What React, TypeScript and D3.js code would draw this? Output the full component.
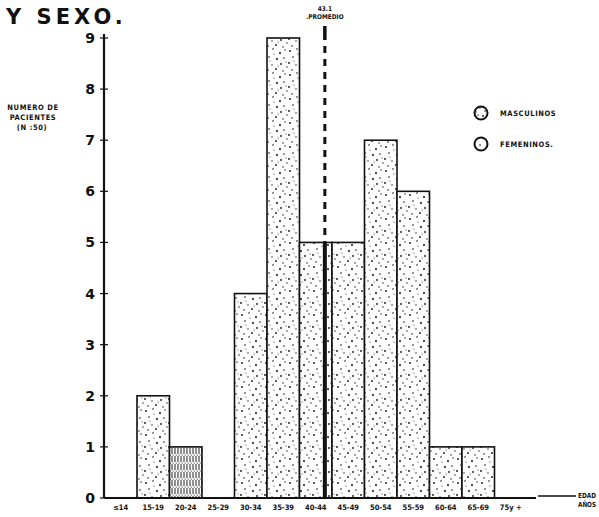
import React from "react";
import * as d3 from "d3";

const categories = ["≤14", "15-19", "20-24", "25-29", "30-34", "35-39", "40-44", "45-49", "50-54", "55-59", "60-64", "65-69", "75y +"];
const counts = [0, 2, 1, 0, 4, 9, 5, 5, 7, 6, 1, 1, 0];
const hatched = ["20-24"];
const yTicks = [0, 1, 2, 3, 4, 5, 6, 7, 8, 9];
const meanAge = 43.1;
const legendItems = ["MASCULINOS", "FEMENINOS."];

const W = 599;
const H = 517;

// stipple dot offsets inside a pattern tile (texture only)
const dots: [number, number, number][] = [
  [2, 3, 0.9], [9, 1, 0.8], [16, 5, 1.0], [21, 2, 0.7], [5, 9, 0.8], [13, 11, 1.0],
  [20, 10, 0.8], [1, 15, 0.9], [8, 17, 0.7], [17, 16, 0.9], [23, 19, 0.7], [4, 22, 0.8],
  [12, 21, 0.9], [19, 23, 0.7], [10, 6, 0.6], [14, 18, 0.6], [6, 13, 0.5], [22, 14, 0.5],
];

const condensed = "DejaVu Sans Condensed, DejaVu Sans, sans-serif";

export default function App() {
  const x = d3.scaleBand<string>().domain(categories).range([104.5, 527]).paddingInner(0).paddingOuter(0);
  const y = d3.scaleLinear().domain([0, 9]).range([498, 38]);
  // age scale for the mean line
  const ageX = d3.scaleLinear().domain([9.2, 74.2]).range([104.5, 527]);
  const mx = ageX(meanAge);

  return (
    <svg width={W} height={H} style={{ display: "block", position: "absolute", left: 0, top: 0, background: "#fff" }}>
      <defs>
        <pattern id="stip" width="24" height="24" patternUnits="userSpaceOnUse">
          <rect width="24" height="24" fill="#fff" />
          {dots.map((d, i) => (
            <circle key={i} cx={d[0]} cy={d[1]} r={d[2]} fill="#111" />
          ))}
        </pattern>
        <pattern id="hatch" width="3" height="8" patternUnits="userSpaceOnUse">
          <rect width="3" height="8" fill="#fff" />
          <line x1="1" y1="0" x2="1" y2="6" stroke="#222" strokeWidth="1" />
          <circle cx="2.2" cy="7" r="0.6" fill="#111" />
        </pattern>
      </defs>

      <text x={6} y={24} fontFamily="DejaVu Sans, sans-serif" fontWeight="bold" fontSize={21} letterSpacing={4} fill="#111">
        Y SEXO.
      </text>

      {/* y-axis title */}
      <g fontFamily={condensed} fontWeight="bold" fontSize={7.5} fill="#111" textAnchor="middle" letterSpacing={0.6}>
        <text x={33} y={110}>NUMERO DE</text>
        <text x={33} y={120}>PACIENTES</text>
        <text x={32} y={130}>(N :50)</text>
      </g>

      {/* bars */}
      {categories.map((c, i) =>
        counts[i] > 0 ? (
          <rect
            key={c}
            x={x(c)!}
            y={y(counts[i])}
            width={x.bandwidth()}
            height={y(0) - y(counts[i])}
            fill={hatched.includes(c) ? "url(#hatch)" : "url(#stip)"}
            stroke="#111"
            strokeWidth={1.6}
          />
        ) : null
      )}

      {/* mean line */}
      <line x1={mx} x2={mx} y1={26} y2={40} stroke="#111" strokeWidth={3.5} />
      <line x1={mx} x2={mx} y1={46} y2={y(5)} stroke="#111" strokeWidth={3} strokeDasharray="7 6" />
      <line x1={mx} x2={mx} y1={y(5)} y2={y(0)} stroke="#111" strokeWidth={4} />
      <g fontFamily={condensed} fontWeight="bold" fontSize={6.5} fill="#111" textAnchor="middle">
        <text x={mx} y={11}>43.1</text>
        <text x={mx} y={19}>.PROMEDIO</text>
      </g>

      {/* y axis */}
      <line x1={104} x2={104} y1={y(9) - 4} y2={y(0)} stroke="#111" strokeWidth={2.2} />
      {yTicks.map((t) => (
        <g key={t}>
          <line x1={100} x2={108} y1={y(t)} y2={y(t)} stroke="#111" strokeWidth={1.2} />
          <text x={95} y={y(t) + 5} textAnchor="end" fontFamily="DejaVu Sans, sans-serif" fontWeight="bold" fontSize={14} fill="#111">
            {t}
          </text>
        </g>
      ))}

      {/* x axis */}
      <line x1={104} x2={536} y1={y(0)} y2={y(0)} stroke="#111" strokeWidth={2.2} />
      <line x1={538} x2={576} y1={y(0) - 2} y2={y(0) - 2} stroke="#111" strokeWidth={1.3} />
      {categories.map((c) => (
        <text
          key={c}
          x={x(c)! + x.bandwidth() / 2}
          y={510}
          textAnchor="middle"
          fontFamily={condensed}
          fontWeight="bold"
          fontSize={7.5}
          fill="#111"
        >
          {c}
        </text>
      ))}
      <g fontFamily={condensed} fontWeight="bold" fontSize={7} fill="#111">
        <text x={578} y={498} textLength={18} lengthAdjust="spacingAndGlyphs">EDAD</text>
        <text x={578} y={507} textLength={18} lengthAdjust="spacingAndGlyphs">AÑOS</text>
      </g>

      {/* legend */}
      {legendItems.map((l, i) => (
        <g key={l} transform={`translate(481,${113 + i * 31})`}>
          <circle r={6.5} fill={i === 0 ? "url(#stip)" : "#fff"} stroke="#111" strokeWidth={2} />
          {i === 1 ? <circle cx={-1} cy={1} r={0.8} fill="#111" /> : null}
          <text x={19} y={3} fontFamily={condensed} fontWeight="bold" fontSize={7.5} letterSpacing={0.6} fill="#111">
            {l}
          </text>
        </g>
      ))}
    </svg>
  );
}
